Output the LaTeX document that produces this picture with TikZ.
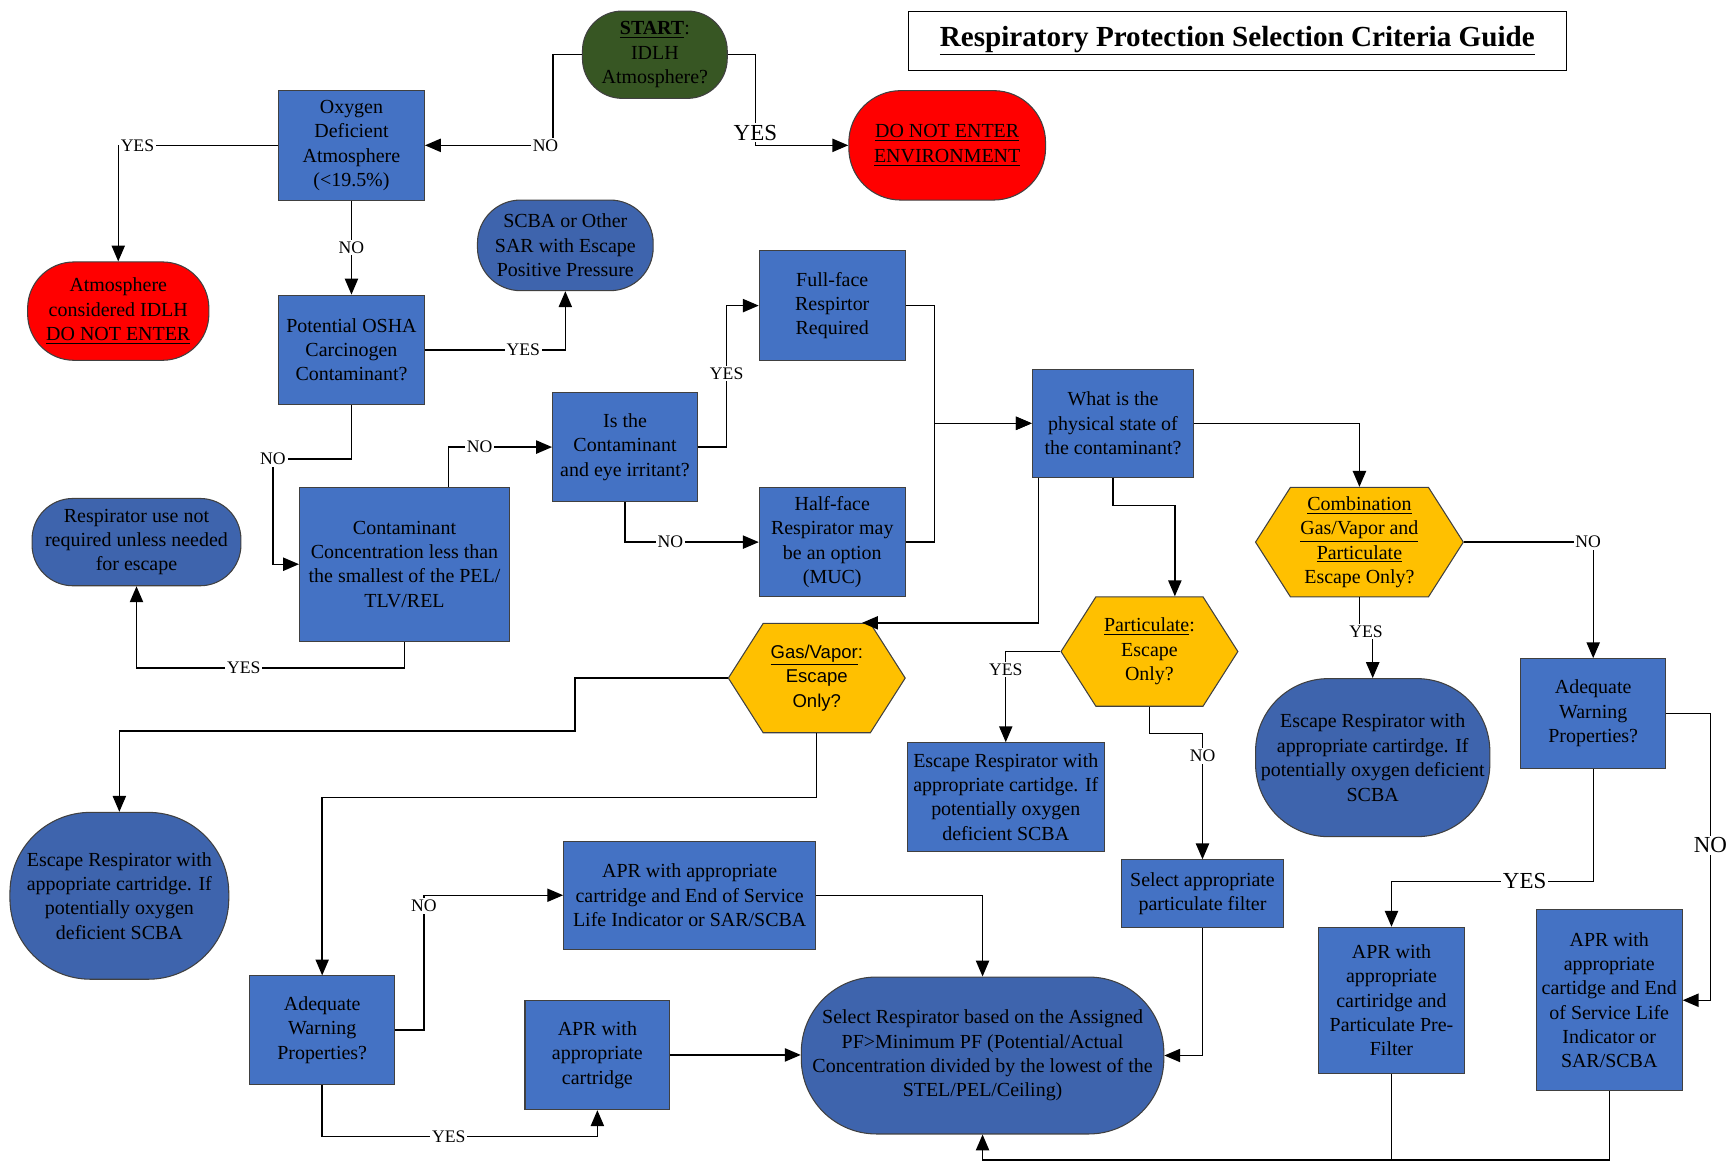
\documentclass[tikz,border=0pt]{standalone}
\usepackage{fontspec}
\setmainfont{Liberation Serif}
\newfontfamily\arialfont{Liberation Sans}
\usepackage{tikz}
\usetikzlibrary{calc}
\usetikzlibrary{arrows.meta,shapes.symbols}
\definecolor{boxblue}{HTML}{4472C4}
\definecolor{darkblue}{HTML}{3E64AD}
\definecolor{startgreen}{HTML}{375623}
\definecolor{hexgold}{HTML}{FFC000}
\newcommand{\dpx}{0.022cm}

\begin{document}
\begin{tikzpicture}[x=0.022cm,y=-0.022cm]
		\tikzset{every node/.style={font=\fontsize{11.3}{13.8}\selectfont,align=center,inner sep=1pt},
			sz/.style 2 args={minimum width=#1*\dpx,minimum height=#2*\dpx},
			box/.style={draw=black!75,fill=boxblue,line width=0.6pt},
			term/.style={draw=black!75,fill=darkblue,line width=0.6pt},
			hexa/.style={draw=black!75,fill=hexgold,line width=0.6pt,signal,signal to=west and east,signal pointer angle=115},
			lbl/.style={fill=white,inner sep=1pt,font=\fontsize{10}{12}\selectfont},
			big/.style={font=\fontsize{13}{15}\selectfont},
			>={Triangle[length=9pt,width=7.5pt]}}
		\useasboundingbox (0,0) rectangle (1568,1057);
		\node (0) at (1119.5,37) [draw,line width=0.6pt,sz={595}{54},font=\fontsize{16.5}{20}\selectfont\bfseries] {\underline{Respiratory Protection Selection Criteria Guide}};
		
		\node (1) at (592.5,49.5) [term,fill=startgreen,rounded corners=36*\dpx,sz={131}{79}] {\underline{\textbf{START}}:\\IDLH\\Atmosphere?};
		\node (2) at (857,131.5) [term,fill=red,rounded corners=47*\dpx,sz={178}{99}] {\underline{DO NOT ENTER}\\\underline{ENVIRONMENT}};
		\node (3) at (318,131.5) [box,sz={132}{99}] {Oxygen\\Deficient\\Atmosphere\\(<19.5\%)};
		\node (4) at (107,281.5) [term,fill=red,rounded corners=42*\dpx,sz={164}{89}] {Atmosphere\\considered IDLH\\\underline{DO NOT ENTER}};
		\node (5) at (318,316.5) [box,sz={132}{99}] {Potential OSHA\\Carcinogen\\Contaminant?};
		\node (6) at (511.5,222) [term,rounded corners=39*\dpx,sz={159}{82}] {SCBA or Other\\SAR with Escape\\Positive Pressure};
		\node (7) at (366,510.5) [box,sz={190}{139}] {Contaminant\\Concentration less than\\the smallest of the PEL/\\TLV/REL};
		\node (8) at (123.5,490.5) [term,rounded corners=37*\dpx,sz={189}{79}] {Respirator use not\\required unless needed\\for escape};
		\node (9) at (565.5,404.5) [box,sz={131}{99}] {Is the\\Contaminant\\and eye irritant?};
		\node (10) at (753,276.5) [box,sz={132}{99}] {Full-face\\Respirtor\\Required};
		\node (11) at (753,490.5) [box,sz={132}{99}] {Half-face\\Respirator may\\be an option\\(MUC)};
		\node (12) at (1007,383) [box,sz={146}{98}] {What is the\\physical state of\\the contaminant?};
		
		% estados fisicos
		\node (13) at (1230,490.5) [hexa,sz={188}{99}] {\underline{Combination}\\\underline{Gas/Vapor and}\\\underline{Particulate}\\Escape Only?};
		\node (14) at (1040,589.5) [hexa,sz={160}{99}] {\underline{Particulate}:\\Escape\\Only?};
		\node (15) at (739,613.5) [hexa,sz={160}{99},font=\arialfont\fontsize{10.5}{13.8}\selectfont] {\underline{Gas/Vapor}:\\Escape\\Only?};
		\node (16) at (1242,685.5) [term,rounded corners=66*\dpx,sz={212}{143}] {Escape Respirator with\\appropriate cartirdge. If\\potentially oxygen deficient\\SCBA};
		\node (17) at (1441.5,645.5) [box,sz={131}{99}] {Adequate\\Warning\\Properties?};
		\node (18) at (910,721) [box,sz={178}{98}] {Escape Respirator with\\appropriate cartidge. If\\potentially oxygen\\deficient SCBA};
		\node (19) at (1088,808.5) [box,sz={146}{61}] {Select appropriate\\particulate filter};
		\node (20) at (1259,905) [box,sz={132}{132}] {APR with\\appropriate\\cartiridge and\\Particulate Pre-\\Filter};
		\node (21) at (1456,905) [box,sz={132}{164}] {APR with\\appropriate\\cartidge and End\\of Service Life\\Indicator or\\SAR/SCBA};
		\node (22) at (889,955) [term,rounded corners=68*\dpx,sz={328}{142}] {Select Respirator based on the Assigned\\PF>Minimum PF (Potential/Actual\\Concentration divided by the lowest of the\\STEL/PEL/Ceiling)};
		\node (23) at (108,810.5) [term,rounded corners=73*\dpx,sz={198}{151}] {Escape Respirator with\\appopriate cartridge. If\\potentially oxygen\\deficient SCBA};
		\node (24) at (291.5,932) [box,sz={131}{98}] {Adequate\\Warning\\Properties?};
		\node (25) at (624,810) [box,sz={228}{98}] {APR with appropriate\\cartridge and End of Service\\Life Indicator or SAR/SCBA};
		\node (26) at (540.5,954.5) [box,sz={131}{99}] {APR with\\appropriate\\cartridge};
		
		%Flechas
		\draw[->,thick] (1.west) -- ++(-26,0) |- node[lbl,pos=0.53]{NO} (3.east);
		\draw[->,thick] (1.east) -- ++(25,0) |- node[lbl,big,pos=0.43]{YES} (2.west);
		\draw[->,thick] (3.west) -| node[lbl,pos=0.44]{YES} (4.north);
		\draw[->,thick] (3) -- node[lbl]{NO} (5);
		\draw[->,thick] (5.east) -| node[lbl,pos=0.35]{YES} (6.south);
		\draw[->,thick] (5.south) -- ++(0,49) -- ++(-71,0) node[lbl]{NO} |- (7.west);
		\draw[->,thick] (7.south) -- ++(0,24) -| node[lbl,pos=0.3]{YES} (8.south);
		\draw[->,thick] ($(7.north)+(40,0)$) |- node[lbl,pos=0.65]{NO} (9.west);
		\draw[->,thick] (9.east) -- ++(26,0) |- node[lbl,pos=0.26]{YES} (10.west);
		\draw[->,thick] (9.south) |- node[lbl,pos=0.67]{NO} (11.west);
		\draw[->,thick] (10.east) -- ++(26,0) |- (12.west);
		\draw[->,thick] (11.east) -- ++(26,0) |- (12.west);
		\draw[->,thick] (12.east) -| (13.north);
		\draw[->,thick] (12.south) -- ++(0,25) -| ($(14.north)+(23,0)$);
		\draw[->,thick] ($(12.south west)+(6,0)$) |- ($(15.north)+(41,0)$);
		\draw[->,thick] (13.south) -- ++(0,31) -| node[lbl,pos=0.25]{YES} (16.north);
		\draw[->,thick] (13.east) -| node[lbl,pos=0.48]{NO} (17.north);
		\draw[->,thick] (17.south) -- ++(0,102) -| node[lbl,big,pos=0.17]{YES} (20.north);
		\draw[->,thick] (17.east) -- ++(40,0) |- node[lbl,big,pos=0.23]{NO} (21.east);
		\draw[thick] (20.south) -- ++(0,78);
		\draw[->,thick] (21.south) -- ++(0,62) -| (22.south);
		\draw[->,thick] (14.west) -| node[lbl,pos=0.6]{YES} (18.north);
		\draw[->,thick] (14.south) -- ++(0,24) -| node[lbl,pos=0.59]{NO} (19.north);
		\draw[->,thick] (19.south) |- (22.east);
		\draw[->,thick] (15.west) -- ++(-138,0) -- ++(0,48) -| (23.north);
		\draw[->,thick] (15.south) -- ++(0,58) -| (24.north);
		\draw[->,thick] (24.east) -- ++(26,0) |- node[lbl,pos=0.46]{NO} (25.west);
		\draw[->,thick] (24.south) -- ++(0,47) -| node[lbl,pos=0.23]{YES} (26.south);
		\draw[->,thick] (25.east) -| (22.north);
		\draw[->,thick] (26.east) -- (26.east -| 22.west);
	\end{tikzpicture}
\end{document}
